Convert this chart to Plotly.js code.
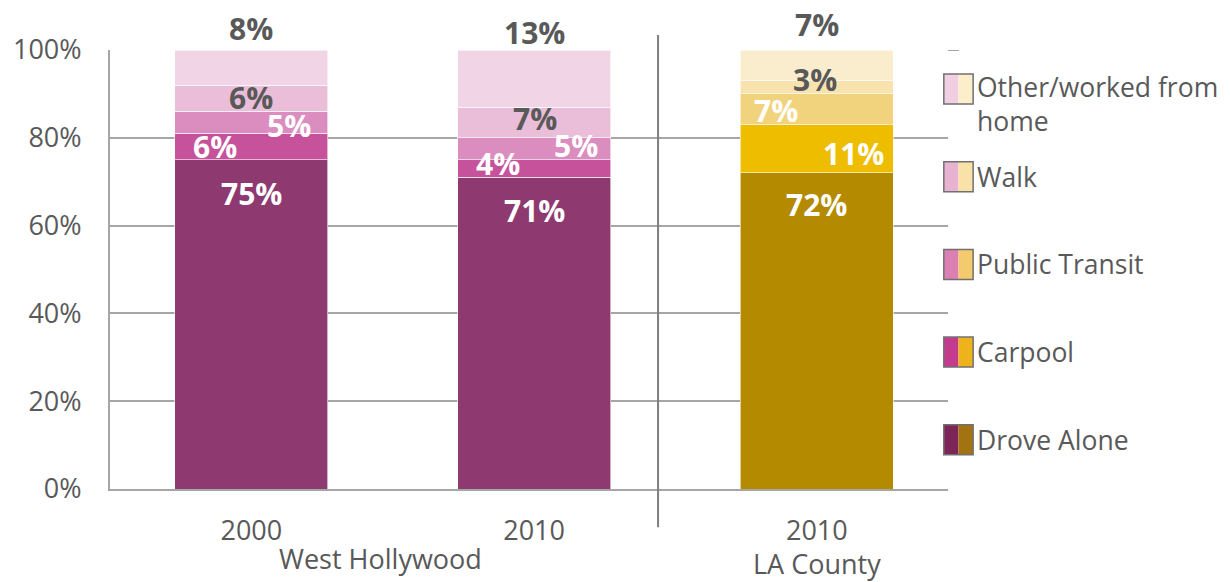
<!DOCTYPE html>
<html><head><meta charset="utf-8">
<script src="https://cdn.plot.ly/plotly-3.0.1.min.js"></script>
<style>html,body{margin:0;padding:0;background:#fff;} #chart{width:1230px;height:582px;}</style>
</head><body><div id="chart"></div>
<script>
// ---- data ----
const xPositions = [0, 1, 2];
const tickLabels = ['2000', '2010', '2010'];
const groupLabels = ['West Hollywood', 'LA County'];
const yTickValues = [0, 20, 40, 60, 80, 100];
const yTickLabels = ['0%', '20%', '40%', '60%', '80%', '100%'];
const seriesNames = ['Drove Alone', 'Carpool', 'Public Transit', 'Walk', 'Other/worked from<br>home'];
const droveAlone = [75, 71, 72];
const carpool = [6, 4, 11];
const publicTransit = [5, 5, 7];
const walk = [6, 7, 3];
const other = [8, 13, 7];
const series = [droveAlone, carpool, publicTransit, walk, other];

// ---- style ----
const whColors = ['#8E3A71', '#C6529B', '#DA8DBE', '#EABDD8', '#F1D5E7'];
const laColors = ['#B38A00', '#EFBD00', '#F2D37D', '#F8E3AF', '#FAEDCE'];
const legendLeft = ['#7D2459', '#C43B8D', '#DC7FB3', '#E8B2D3', '#F0CFE3'];
const legendRight = ['#A47311', '#EEB21A', '#F3CB6C', '#F8E2A8', '#FCEDCB'];
const labelShift = [
  [[0, -34], [0, -33], [0, -32]],
  [[-36, -13], [-36, -4], [37, -29]],
  [[38, -14], [42, -8], [-41, -17]],
  [[0, -12], [1, -11], [-2, 1]],
  [[0, 22], [0, 18], [0, 26]]
];
const darkLabel = [false, false, false, true, true];
const textGray = '#595959';
const gridGray = '#A6A6A6';
const FONT = 'Open Sans, sans-serif';

const traces = series.map((vals, i) => ({
  type: 'bar',
  x: xPositions,
  y: vals,
  name: seriesNames[i],
  marker: {color: [whColors[i], whColors[i], laColors[i]], line: {color: 'rgba(255,255,255,0.6)', width: 1}},
  hoverinfo: 'none',
  showlegend: false
}));

const annotations = [];
const cum = [0, 0, 0];
series.forEach((vals, i) => {
  vals.forEach((v, j) => {
    cum[j] += v;
    annotations.push({
      x: xPositions[j], y: cum[j], xref: 'x', yref: 'y',
      text: '<b>' + v + '%</b>', showarrow: false,
      xanchor: 'center', yanchor: 'middle',
      xshift: labelShift[i][j][0], yshift: labelShift[i][j][1],
      font: {family: FONT, size: 30, color: darkLabel[i] ? textGray : '#FFFFFF'}
    });
  });
});

// group labels under the axis
annotations.push({x: (xPositions[0] + xPositions[1]) / 2, y: 0, xref: 'x', yref: 'paper', text: groupLabels[0],
  showarrow: false, xanchor: 'center', yanchor: 'top', xshift: -12, yshift: -49,
  font: {family: FONT, size: 27, color: textGray}});
annotations.push({x: xPositions[2], y: 0, xref: 'x', yref: 'paper', text: groupLabels[1],
  showarrow: false, xanchor: 'center', yanchor: 'top', xshift: 0, yshift: -54,
  font: {family: FONT, size: 27, color: textGray}});

// custom legend (split swatches)
const shapes = [];
const plotH = 439;
const legTopPx = 89;      // centre of first swatch, px from top of page
const legStepPx = 87.7;
const swL = 0.995, swM = 1.0125, swR = 1.030;
for (let k = 0; k < 5; k++) {
  const idx = 4 - k;
  const cy = 1 - (legTopPx - 50 + k * legStepPx) / plotH;
  const h = 15 / plotH;
  shapes.push({type: 'rect', xref: 'paper', yref: 'paper', x0: swL, x1: swM, y0: cy - h, y1: cy + h,
    fillcolor: legendLeft[idx], line: {width: 0}});
  shapes.push({type: 'rect', xref: 'paper', yref: 'paper', x0: swM, x1: swR, y0: cy - h, y1: cy + h,
    fillcolor: legendRight[idx], line: {width: 0}});
  shapes.push({type: 'rect', xref: 'paper', yref: 'paper', x0: swL, x1: swR, y0: cy - h, y1: cy + h,
    fillcolor: 'rgba(0,0,0,0)', line: {width: 1.5, color: '#707070'}});
  annotations.push({x: 1.032, y: idx === 4 ? cy + 22 / plotH : cy, xref: 'paper', yref: 'paper',
    text: seriesNames[idx], showarrow: false, xanchor: 'left', yanchor: idx === 4 ? 'top' : 'middle', align: 'left',
    font: {family: FONT, size: 26.5, color: textGray}});
}
// separator between West Hollywood and LA County
shapes.push({type: 'line', xref: 'paper', yref: 'paper', x0: 0.654, x1: 0.654, y0: -0.087, y1: 1.034,
  line: {color: '#7F7F7F', width: 2}});
// extension of the 100% gridline
shapes.push({type: 'line', xref: 'paper', yref: 'y', x0: 1, x1: 1.013, y0: 100, y1: 100,
  line: {color: gridGray, width: 2}});

const layout = {
  width: 1230, height: 582,
  margin: {l: 110, r: 282, t: 50, b: 93},
  paper_bgcolor: '#FFFFFF', plot_bgcolor: '#FFFFFF',
  barmode: 'stack', bargap: 0.459,
  showlegend: false,
  font: {family: FONT, color: textGray},
  xaxis: {
    range: [-0.5, 2.464], tickmode: 'array', tickvals: xPositions, ticktext: tickLabels,
    showgrid: false, zeroline: false, showline: true, linecolor: gridGray, linewidth: 2,
    ticks: 'outside', ticklen: 17, tickcolor: 'rgba(0,0,0,0)',
    tickfont: {family: FONT, size: 27, color: textGray}, fixedrange: true
  },
  yaxis: {
    range: [0, 100], tickmode: 'array', tickvals: yTickValues, ticktext: yTickLabels,
    showgrid: true, gridcolor: gridGray, gridwidth: 2, zeroline: false,
    showline: true, linecolor: gridGray, linewidth: 2,
    ticks: 'outside', ticklen: 21, tickcolor: 'rgba(0,0,0,0)',
    tickfont: {family: FONT, size: 27, color: textGray}, fixedrange: true
  },
  annotations: annotations,
  shapes: shapes
};

Plotly.newPlot('chart', traces, layout, {displayModeBar: false, staticPlot: true});
</script>
</body></html>
